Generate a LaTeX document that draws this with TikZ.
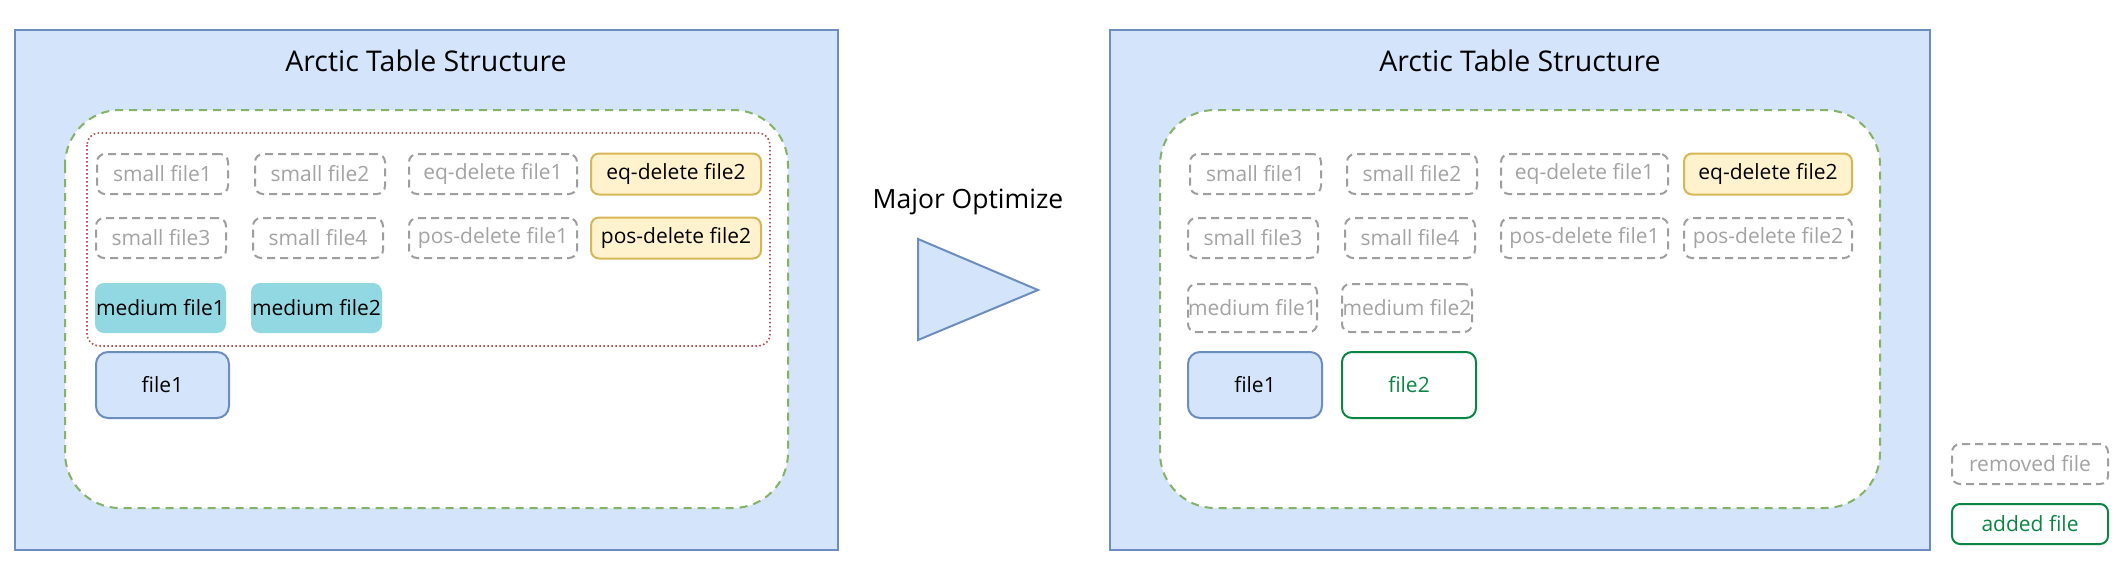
\documentclass[tikz,border=0pt]{standalone}
\usepackage{fontspec}
\setmainfont{Open Sans}
\definecolor{bluefill}{HTML}{D4E4FA}
\definecolor{bluedraw}{HTML}{6C8EBF}
\definecolor{greendash}{HTML}{82B366}
\definecolor{reddot}{HTML}{B85450}
\definecolor{grayline}{HTML}{9E9E9E}
\definecolor{graytext}{HTML}{A3A3A3}
\definecolor{yelfill}{HTML}{FFF2CC}
\definecolor{yeldraw}{HTML}{D6B656}
\definecolor{cyanfill}{HTML}{92D8E3}
\definecolor{addgreen}{HTML}{0B8544}
\begin{document}
\begin{tikzpicture}[x=1pt,y=-1pt,
  every node/.style={inner sep=0pt, font=\fontsize{21}{24}\selectfont},
  outerbox/.style={draw=bluedraw, fill=bluefill, line width=2pt},
  container/.style={draw=greendash, fill=white, dashed, dash pattern=on 8pt off 6pt, line width=2pt, rounded corners=55pt},
  dotbox/.style={draw=reddot, dotted, line width=1.6pt, rounded corners=12pt, dash pattern=on 1.6pt off 2.4pt},
  removed/.style={draw=grayline, dash pattern=on 8pt off 5pt, line width=2pt, rounded corners=8pt, text=graytext, minimum height=40pt},
  yel/.style={draw=yeldraw, fill=yelfill, line width=2pt, rounded corners=8pt, minimum height=41pt},
  med/.style={fill=cyanfill, rounded corners=9pt, minimum height=50pt},
  filebox/.style={draw=bluedraw, fill=bluefill, line width=2pt, rounded corners=12pt, minimum width=133pt, minimum height=66pt},
  added/.style={draw=addgreen, line width=2pt, rounded corners=10pt, text=addgreen},
  titletext/.style={font=\fontsize{28.5}{32}\selectfont},
  optext/.style={font=\fontsize{26.5}{30}\selectfont}
]
\useasboundingbox (0,0) rectangle (2126,570);
\fill[white] (0,0) rectangle (2126,570);

% ---------- left structure ----------
\draw[outerbox] (15,30) rectangle (838,550);
\node[titletext] (ltitle) at (426,61) {Arctic Table Structure};
\draw[container] (65,110) rectangle (788,508);
\draw[dotbox] (87,133) rectangle (770,346);

\node[removed, minimum width=131pt] (lsf1) at (162.5,174) {small file1};
\node[removed, minimum width=130pt] (lsf2) at (320,174) {small file2};
\node[removed, minimum width=168pt] (leq1) at (493,174) {eq-delete file1};
\node[yel, minimum width=170pt] (leq2) at (676,174) {eq-delete file2};

\node[removed, minimum width=130pt] (lsf3) at (161,238) {small file3};
\node[removed, minimum width=130pt] (lsf4) at (318,238) {small file4};
\node[removed, minimum width=168pt] (lpd1) at (493,238) {pos-delete file1};
\node[yel, minimum width=170pt] (lpd2) at (676,238) {pos-delete file2};

\node[med, minimum width=131pt] (lmf1) at (160.5,308) {medium file1};
\node[med, minimum width=131pt] (lmf2) at (316.5,308) {medium file2};

\node[filebox] (lfile1) at (162.5,385) {file1};

% ---------- arrow ----------
\node[optext] (optlabel) at (968,202) {Major Optimize};
\draw[draw=bluedraw, fill=bluefill, line width=2pt, line join=miter] (918,239) -- (918,340) -- (1038,290) -- cycle;

% ---------- right structure ----------
\draw[outerbox] (1110,30) rectangle (1930,550);
\node[titletext] (rtitle) at (1520,61) {Arctic Table Structure};
\draw[container] (1160,110) rectangle (1880,508);

\node[removed, minimum width=131pt] (rsf1) at (1255.5,174) {small file1};
\node[removed, minimum width=130pt] (rsf2) at (1412,174) {small file2};
\node[removed, minimum width=167pt] (req1) at (1584.5,174) {eq-delete file1};
\node[yel, minimum width=168pt] (req2) at (1768,174) {eq-delete file2};

\node[removed, minimum width=130pt] (rsf3) at (1253,238) {small file3};
\node[removed, minimum width=130pt] (rsf4) at (1410,238) {small file4};
\node[removed, minimum width=167pt] (rpd1) at (1584.5,238) {pos-delete file1};
\node[removed, minimum width=168pt] (rpd2) at (1768,238) {pos-delete file2};

\node[removed, minimum width=129pt, minimum height=48pt] (rmf1) at (1252.5,308) {medium file1};
\node[removed, minimum width=130pt, minimum height=48pt] (rmf2) at (1407,308) {medium file2};

\node[filebox, minimum width=134pt] (rfile1) at (1255,385) {file1};
\node[added, minimum width=134pt, minimum height=66pt] (rfile2) at (1409,385) {file2};

% ---------- legend ----------
\node[removed, minimum width=156pt] (legrem) at (2030,464) {removed file};
\node[added, minimum width=156pt, minimum height=40pt, rounded corners=8pt] (legadd) at (2030,524) {added file};
\end{tikzpicture}
\end{document}
